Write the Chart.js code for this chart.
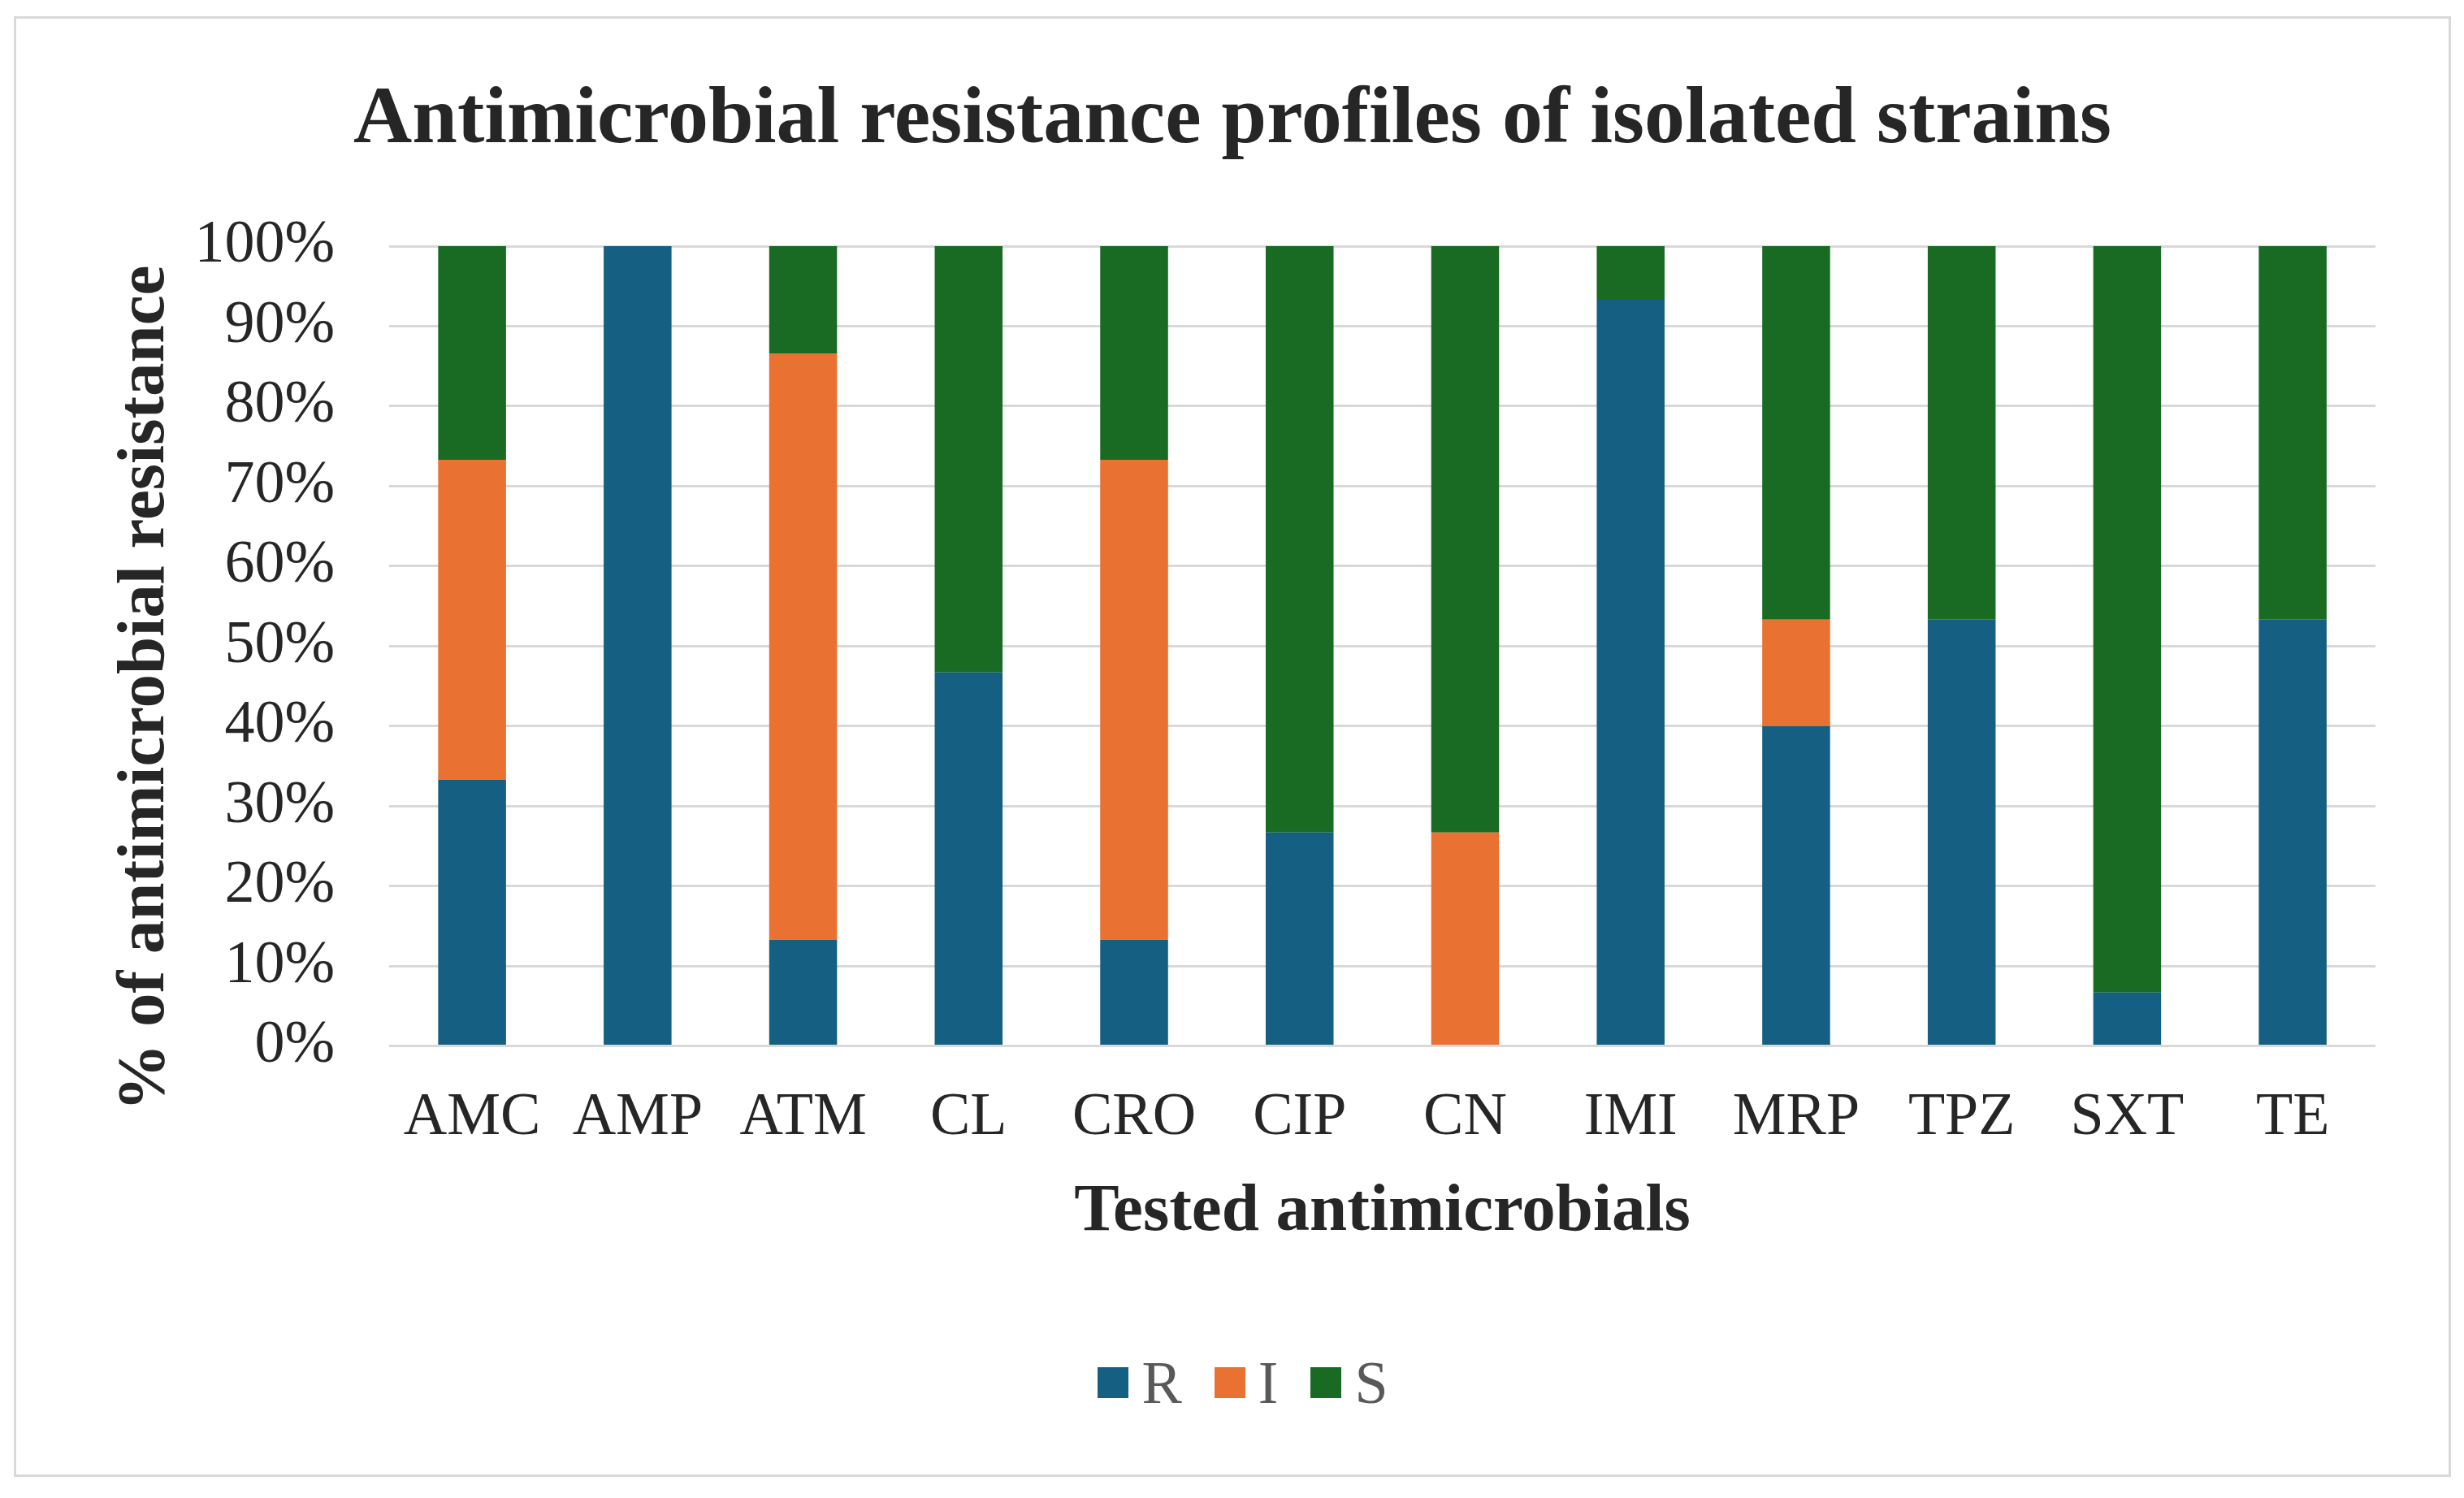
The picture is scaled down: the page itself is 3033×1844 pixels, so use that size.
<!DOCTYPE html>
<html>
<head>
<meta charset="utf-8">
<title>Antimicrobial resistance profiles of isolated strains</title>
<script src="https://cdn.jsdelivr.net/npm/chart.js@4.4.1/dist/chart.umd.min.js"></script>
<style>
    html, body { margin: 0; padding: 0; background: #ffffff; }
    #frame {
        position: absolute;
        left: 17px;
        top: 20px;
        width: 3000px;
        height: 1798px;
        border: 3px solid #d9d9d9;
        box-sizing: border-box;
        background: #ffffff;
    }
    #myChart { display: block; }
    #legend {
        position: absolute;
        left: 26px;
        right: 0;
        top: 1634px;
        height: 90px;
        display: flex;
        justify-content: center;
        align-items: center;
        font-family: "Liberation Serif", "Times New Roman", serif;
        font-size: 74px;
        line-height: 1;
        color: #595959;
    }
    #legend .item { display: flex; align-items: center; margin: 0 20px; }
    #legend .box { width: 38px; height: 38px; margin-right: 16px; }
</style>
</head>
<body>
<div id="frame">
    <canvas id="myChart" width="2994" height="1792" style="width:2994px;height:1792px"></canvas>
    <div id="legend"></div>
</div>
<script>
// Tested antimicrobials (x categories)
const antimicrobials = ['AMC', 'AMP', 'ATM', 'CL', 'CRO', 'CIP', 'CN', 'IMI', 'MRP', 'TPZ', 'SXT', 'TE'];

// % of isolates per category
const resistant    = [33.3, 100, 13.3, 46.7, 13.3, 26.7, 0,    93.3, 40,   53.3, 6.7,  53.3];
const intermediate = [40,   0,   73.3, 0,    60,   0,    26.7, 0,    13.3, 0,    0,    0];
const susceptible  = [26.7, 0,   13.4, 53.3, 26.7, 73.3, 73.3, 6.7,  46.7, 46.7, 93.3, 46.7];

// y axis ticks
const yTicks = [0, 10, 20, 30, 40, 50, 60, 70, 80, 90, 100];

const serif = '"Liberation Serif", "Times New Roman", serif';

// HTML legend built from the chart's datasets
function buildLegend(chart) {
    const legend = document.getElementById('legend');
    legend.innerHTML = '';
    chart.data.datasets.forEach(ds => {
        const item = document.createElement('div');
        item.className = 'item';
        const box = document.createElement('span');
        box.className = 'box';
        box.style.background = ds.backgroundColor;
        const label = document.createElement('span');
        label.textContent = ds.label;
        item.appendChild(box);
        item.appendChild(label);
        legend.appendChild(item);
    });
}

function renderChart() {
    const ctx = document.getElementById('myChart').getContext('2d');
    const myChart = new Chart(ctx, {
        type: 'bar',
        data: {
            labels: antimicrobials,
            datasets: [
                { label: 'R', data: resistant, backgroundColor: '#156082' },
                { label: 'I', data: intermediate, backgroundColor: '#E97132' },
                { label: 'S', data: susceptible, backgroundColor: '#196B24' }
            ]
        },
        options: {
            responsive: false,
            animation: false,
            devicePixelRatio: 1,
            layout: {
                padding: { left: 0, right: 0, top: 0, bottom: 157 }
            },
            datasets: {
                bar: {
                    categoryPercentage: 1.0,
                    barPercentage: 0.41,
                    borderWidth: 0
                }
            },
            plugins: {
                title: {
                    display: true,
                    text: 'Antimicrobial resistance profiles of isolated strains',
                    color: '#262626',
                    font: { family: serif, size: 100, weight: 'bold' },
                    padding: { top: 66, bottom: 94 }
                },
                legend: { display: false },
                tooltip: { enabled: false }
            },
            scales: {
                x: {
                    stacked: true,
                    grid: { display: false },
                    border: { display: false },
                    ticks: {
                        color: '#262626',
                        font: { family: serif, size: 74 },
                        padding: 37,
                        maxRotation: 0
                    },
                    title: {
                        display: true,
                        text: 'Tested antimicrobials',
                        color: '#262626',
                        font: { family: serif, size: 83, weight: 'bold' },
                        padding: { top: -16, bottom: 116 }
                    }
                },
                y: {
                    stacked: true,
                    min: 0,
                    max: 100,
                    afterBuildTicks: (axis) => {
                        axis.ticks = yTicks.map(v => ({ value: v }));
                    },
                    grid: { color: '#d9d9d9', lineWidth: 3, drawTicks: false },
                    border: { display: false },
                    ticks: {
                        color: '#262626',
                        font: { family: serif, size: 74 },
                        padding: 67,
                        callback: (v) => v + '%'
                    },
                    title: {
                        display: true,
                        text: '% of antimicrobial resistance     ',
                        color: '#262626',
                        font: { family: serif, size: 83, weight: 'bold' },
                        padding: { top: 110, bottom: -57 }
                    }
                },
                // empty right-hand margin so the title stays centred on the frame
                spacer: {
                    type: 'linear',
                    position: 'right',
                    grid: { display: false },
                    border: { display: false },
                    ticks: { display: false },
                    afterFit: (axis) => { axis.width = 90; }
                }
            }
        }
    });
    buildLegend(myChart);
    return myChart;
}

renderChart();
</script>
</body>
</html>
